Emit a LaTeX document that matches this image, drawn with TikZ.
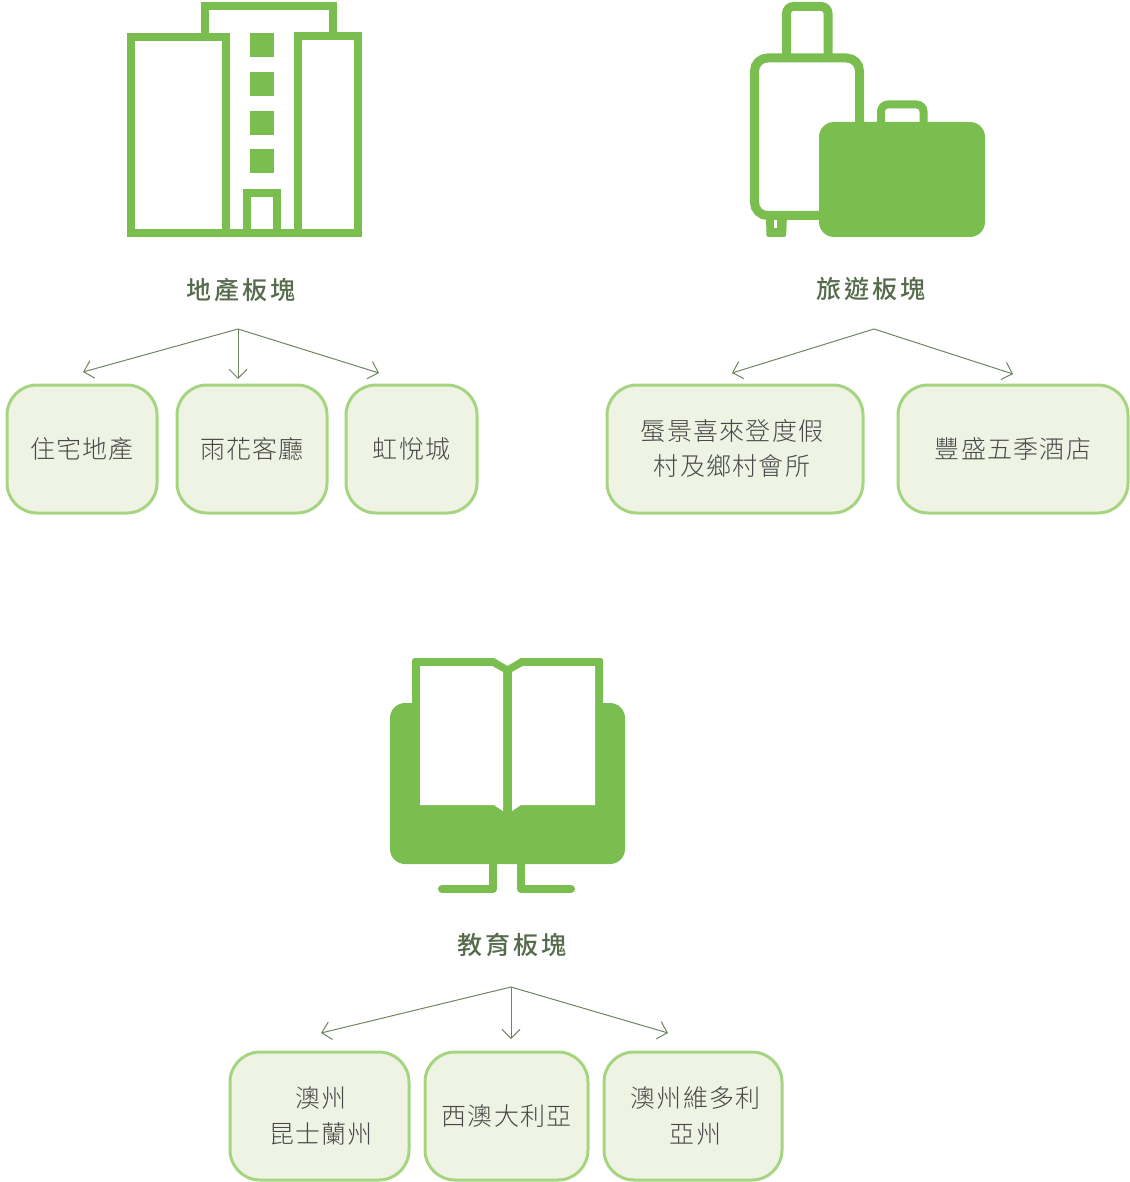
\documentclass[tikz,border=0pt]{standalone}
\usepackage{fontspec}
\usetikzlibrary{arrows.meta}
\newfontfamily\bodyfont[UprightFont={* Light},LetterSpace=5]{Noto Sans CJK TC}
\newfontfamily\headfont[UprightFont={* Medium},LetterSpace=11]{Noto Sans CJK TC}
\definecolor{icongreen}{HTML}{7ABE50}
\definecolor{boxfill}{HTML}{EEF3E3}
\definecolor{boxline}{HTML}{A6D581}
\definecolor{headcolor}{HTML}{566B4B}
\definecolor{bodycolor}{HTML}{484848}
\definecolor{linkcolor}{HTML}{6F8562}
\tikzset{
    boxnode/.style={draw=boxline, fill=boxfill, line width=3pt, rounded corners=30pt, inner sep=0pt,
        minimum height=128pt, align=center, text=bodycolor, font=\bodyfont\fontsize{25}{35}\selectfont},
    tallnode/.style={boxnode, font=\bodyfont\fontsize{25}{36}\selectfont},
    headnode/.style={inner sep=0pt, text=headcolor, font=\headfont\fontsize{25}{30}\selectfont},
    linkarrow/.style={draw=linkcolor, line width=1pt, -{Straight Barb[length=9pt,width=18pt]}},
    iconline/.style={draw=icongreen, line width=8pt},
    iconfill/.style={fill=icongreen}
}

\begin{document}
\begin{tikzpicture}[x=1pt, y=-1pt]
    \useasboundingbox (0,0) rectangle (1129,1182);

    % building
    \draw[iconline] (205,36) -- (205,6) -- (333,6) -- (333,36);
    \draw[iconline] (130.5,37) rectangle (225.5,233);
    \draw[iconline] (298,36) rectangle (358,233);
    \draw[iconline] (225,233) -- (298,233);
    \draw[iconline] (247,233) -- (247,193) -- (277,193) -- (277,233);
    \foreach \y in {33, 72, 111, 149} {
        \fill[iconfill] (249.5,\y) rectangle (274,\y+24);
    }

    % luggage
    \fill[iconfill, rounded corners=2pt] (766,216) -- (787,216) -- (786,237) -- (766.5,237) -- cycle;
    \fill[white] (774,220) rectangle (777,228);
    \draw[iconline, line width=9pt, rounded corners=7pt] (786.5,60) -- (786.5,6.5) -- (828,6.5) -- (828,60);
    \draw[iconline, line width=9pt, rounded corners=13pt] (754.5,58) rectangle (859.5,215.5);
    \draw[iconline, rounded corners=7pt] (881,125) -- (881,104.5) -- (923.5,104.5) -- (923.5,125);
    \fill[iconfill, rounded corners=15pt] (819,122) rectangle (985,237);

    % book
    \draw[iconline, line cap=round, line join=round] (442,889) -- (493,889) -- (493,860);
    \draw[iconline, line cap=round, line join=round] (571,889) -- (521,889) -- (521,860);
    \fill[iconfill, rounded corners=15pt] (390,703) rectangle (625,864);
    \fill[iconfill] (412,720) -- (412,660) -- (414,658) -- (494,658) -- (507.5,666) -- (521,658)
        -- (601,658) -- (603,660) -- (603,720) -- cycle;
    \fill[white] (420,666) -- (492,666) -- (503,672) -- (503,811) -- (494,805) -- (420,805) -- cycle;
    \fill[white] (595,666) -- (523,666) -- (512,672) -- (512,811) -- (521,805) -- (595,805) -- cycle;

    % headings
    \node[headnode] (dichan) at (241,290) {地產板塊};
    \node[headnode] (lvyou) at (871,289) {旅遊板塊};
    \node[headnode] (jiaoyu) at (512,945) {教育板塊};

    % boxes
    \node[boxnode, minimum width=150pt] (zhuzhai) at (82,449) {住宅地產};
    \node[boxnode, minimum width=150pt] (yuhua) at (252,449) {雨花客廳};
    \node[boxnode, minimum width=131pt] (hongyue) at (411.5,449) {虹悅城};
    \node[boxnode, minimum width=256pt] (lijing) at (735,449) {\raisebox{2pt}{\hspace*{-6pt}蜃景喜來登度假}\\\raisebox{2pt}{\hspace*{-6pt}村及鄉村會所}};
    \node[boxnode, minimum width=230pt] (fengsheng) at (1013,449) {\raisebox{2pt}{豐盛五季酒店}};
    \node[tallnode, minimum width=179pt] (kunshilan) at (319.5,1116) {\hspace*{3pt}澳州\\\hspace*{3pt}昆士蘭州};
    \node[boxnode, minimum width=163pt] (xiao) at (506.5,1116) {西澳大利亞};
    \node[tallnode, minimum width=178pt] (weiduoli) at (693,1116) {\hspace*{5pt}澳州維多利\\\hspace*{5pt}亞州};

    % arrows
    \coordinate (dichantop) at (238,329);
    \coordinate (zhuzhaitip) at (83,372);
    \coordinate (yuhuatip) at (238,379);
    \coordinate (hongyuetip) at (379,373);
    \draw[linkarrow] (dichantop) -- (zhuzhaitip);
    \draw[linkarrow] (dichantop) -- (yuhuatip);
    \draw[linkarrow] (dichantop) -- (hongyuetip);

    \coordinate (lvyoutop) at (874,329);
    \coordinate (lijingtip) at (732,373);
    \coordinate (fengshengtip) at (1013,374);
    \draw[linkarrow] (lvyoutop) -- (lijingtip);
    \draw[linkarrow] (lvyoutop) -- (fengshengtip);

    \coordinate (jiaoyutop) at (511,987);
    \coordinate (kunshilantip) at (321,1033);
    \coordinate (xiaotip) at (511,1039);
    \coordinate (weiduolitip) at (668,1033);
    \draw[linkarrow] (jiaoyutop) -- (kunshilantip);
    \draw[linkarrow] (jiaoyutop) -- (xiaotip);
    \draw[linkarrow] (jiaoyutop) -- (weiduolitip);
\end{tikzpicture}
\end{document}
